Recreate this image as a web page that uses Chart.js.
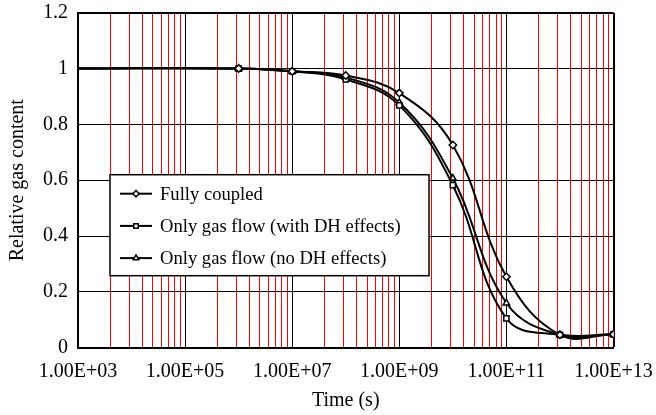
<!DOCTYPE html>
<html>
<head>
<meta charset="utf-8">
<script src="https://cdn.jsdelivr.net/npm/chart.js@4.4.1/dist/chart.umd.min.js"></script>
<style>
  html, body { margin: 0; padding: 0; background: #fff; }
  #wrap { width: 656px; height: 415px; position: relative; }
</style>
</head>
<body>
<div id="wrap"><canvas id="c" width="656" height="415"></canvas></div>
<script>
// ---- data ----
const timeValues = [1e3, 1e6, 1e7, 1e8, 1e9, 1e10, 1e11, 1e12, 1e13];
const fullyCoupled = [1.0, 1.0, 0.99, 0.975, 0.912, 0.726, 0.254, 0.046, 0.048];
const gasFlowWithDH = [1.0, 1.0, 0.99, 0.961, 0.868, 0.582, 0.105, 0.046, 0.048];
const gasFlowNoDH = [1.0, 1.0, 0.99, 0.968, 0.878, 0.607, 0.160, 0.046, 0.048];
const seriesNames = ["Fully coupled", "Only gas flow (with DH effects)", "Only gas flow (no DH effects)"];
const xMajorTicks = [1e3, 1e5, 1e7, 1e9, 1e11, 1e13];
const xTickLabels = ["1.00E+03", "1.00E+05", "1.00E+07", "1.00E+09", "1.00E+11", "1.00E+13"];
const minorMultipliers = [4, 9, 16, 25, 36, 49, 64, 81];
const yTickValues = [0, 0.2, 0.4, 0.6, 0.8, 1.0, 1.2];
const yTickLabels = ["0", "0.2", "0.4", "0.6", "0.8", "1", "1.2"];
const xTitle = "Time (s)";
const yTitle = "Relative gas content";

const FONT = "'Liberation Serif', 'Times New Roman', serif";

const pts = arr => timeValues.map((t, i) => ({x: t, y: arr[i]}));
const radii = timeValues.map((t, i) => i === 0 ? 0 : 3.7);

const gridValues = [];
xMajorTicks.forEach((m, i) => {
  gridValues.push({value: m, isMajor: true});
  if (i < xMajorTicks.length - 1) minorMultipliers.forEach(k => gridValues.push({value: m * k, isMajor: false}));
});

const styles = ['rectRot', 'rect', 'triangle'];
function ds(label, arr, style) {
  return {
    label, data: pts(arr),
    borderColor: '#000', borderWidth: 2,
    pointStyle: style, pointRadius: radii, pointBorderWidth: 1.5,
    pointBackgroundColor: '#fff', pointBorderColor: '#000',
    tension: 0.4, fill: false
  };
}

const legendPlugin = {
  id: 'boxLegend',
  afterDatasetsDraw(chart) {
    const ctx = chart.ctx, ca = chart.chartArea;
    const x0 = ca.left + 32, y0 = ca.top + 162, w = 319, h = 101;
    ctx.save();
    ctx.fillStyle = '#fff';
    ctx.fillRect(x0, y0, w, h);
    ctx.strokeStyle = '#000';
    ctx.lineWidth = 1.5;
    ctx.strokeRect(x0, y0, w, h);
    ctx.font = "18.6px " + FONT;
    ctx.textBaseline = 'middle';
    ctx.textAlign = 'left';
    chart.data.datasets.forEach((d, i) => {
      const y = y0 + 19 + i * 32.2;
      ctx.strokeStyle = '#000';
      ctx.lineWidth = 2;
      ctx.beginPath();
      ctx.moveTo(x0 + 10, y);
      ctx.lineTo(x0 + 42, y);
      ctx.stroke();
      ctx.fillStyle = '#fff';
      ctx.lineWidth = 1.5;
      Chart.helpers.drawPoint(ctx, {pointStyle: d.pointStyle, radius: 3.2, rotation: 0, borderWidth: 1.5}, x0 + 26, y);
      ctx.fillStyle = '#000';
      ctx.fillText(d.label, x0 + 50, y + 1);
    });
    ctx.restore();
  }
};

new Chart(document.getElementById('c'), {
  type: 'line',
  data: {
    datasets: [
      ds(seriesNames[0], fullyCoupled, styles[0]),
      ds(seriesNames[1], gasFlowWithDH, styles[1]),
      ds(seriesNames[2], gasFlowNoDH, styles[2])
    ]
  },
  options: {
    responsive: false,
    animation: false,
    devicePixelRatio: 1,
    layout: { padding: { left: 0, top: 12.7, right: 42.5, bottom: 0 } },
    plugins: { legend: { display: false }, tooltip: { enabled: false } },
    scales: {
      x: {
        type: 'logarithmic',
        min: 1e3, max: 1e13,
        afterBuildTicks: s => { s.ticks = gridValues.map(g => ({value: g.value, isMajor: g.isMajor})); },
        afterFit: s => { s.height = 67.3; s.paddingLeft = 0; s.paddingRight = 0; },
        ticks: {
          autoSkip: false, maxRotation: 0, minRotation: 0, padding: 12,
          color: '#000', font: { family: FONT, size: 20 },
          callback: (v) => { const i = xMajorTicks.indexOf(v); return i >= 0 ? xTickLabels[i] : ''; }
        },
        grid: {
          drawTicks: false,
          color: c => (c.tick && c.tick.isMajor) ? '#000' : '#ff0000',
          lineWidth: c => (c.tick && c.tick.value === 1e13) ? 2 : 1
        },
        border: { display: true, color: '#000', width: 2 },
        title: { display: true, text: xTitle, color: '#000', font: { family: FONT, size: 20 }, padding: { top: 0, bottom: 2 } }
      },
      y: {
        type: 'linear',
        min: 0, max: 1.2,
        afterBuildTicks: s => { s.ticks = yTickValues.map(v => ({value: v})); },
        afterFit: s => { s.width = 78; s.paddingTop = 0; s.paddingBottom = 0; },
        ticks: {
          padding: 10, color: '#000', font: { family: FONT, size: 20 },
          callback: (v) => { const i = yTickValues.findIndex(t => Math.abs(t - v) < 1e-9); return i >= 0 ? yTickLabels[i] : ''; }
        },
        grid: {
          drawTicks: false, color: '#000',
          lineWidth: c => (c.tick && c.tick.value === 1.2) ? 2 : 1
        },
        border: { display: true, color: '#000', width: 2 },
        title: { display: true, text: yTitle, color: '#000', font: { family: FONT, size: 20 }, padding: { top: 6, bottom: 0 } }
      }
    }
  },
  plugins: [legendPlugin]
});
</script>
</body>
</html>
